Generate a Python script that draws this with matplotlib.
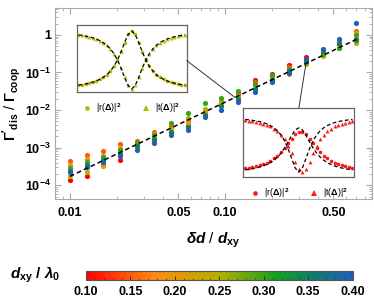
import numpy as np
import matplotlib
matplotlib.use('Agg')
import matplotlib.pyplot as plt
from matplotlib.colors import LinearSegmentedColormap, Normalize
from matplotlib.cm import ScalarMappable
from matplotlib.patches import ConnectionPatch
from matplotlib.ticker import FixedLocator, FixedFormatter, LogLocator, NullFormatter, MultipleLocator

plt.rcParams['font.family'] = ['Liberation Sans', 'DejaVu Sans']
plt.rcParams['font.weight'] = 'bold'
plt.rcParams['mathtext.fontset'] = 'custom'
plt.rcParams['mathtext.rm'] = 'Liberation Sans:bold'
plt.rcParams['mathtext.bf'] = 'Liberation Sans:bold'
plt.rcParams['mathtext.it'] = 'Liberation Sans:bold:italic'

### ~~~~~~~~~~~~~~~~~~~~~~~~~~~~~~~~~~~~~~~ ###
# main panel data: delta_d / d_xy and log10(Gamma'_dis / Gamma_coop)
delta_d = [0.0100, 0.0128, 0.0164, 0.0211, 0.0271, 0.0348, 0.0447, 0.0574, 0.0738,
           0.0948, 0.122, 0.156, 0.201, 0.258, 0.331, 0.426, 0.547, 0.703]

dxy_values = [0.10, 0.15, 0.20, 0.25, 0.30, 0.35, 0.40]

log_ratio_010 = [-3.87, -3.76, -3.46, -3.33, -2.98, -2.80, -2.57, -2.41, -2.04,
                 -1.80, -1.56, -1.20, -1.04, -0.79, -0.59, -0.49, -0.24, -0.10]
log_ratio_015 = [-3.35, -3.20, -3.09, -2.91, -2.82, -2.58, -2.42, -2.26, -1.99,
                 -1.82, -1.53, -1.26, -1.09, -0.85, -0.65, -0.52, -0.20, 0.10]
log_ratio_020 = [-3.47, -3.30, -3.49, -3.00, -3.00, -2.63, -2.49, -2.34, -2.06,
                 -1.87, -1.63, -1.34, -1.14, -1.01, -0.70, -0.56, -0.17, 0.04]
log_ratio_025 = [-3.76, -3.65, -3.22, -3.14, -2.93, -2.73, -2.53, -2.21, -1.96,
                 -1.77, -1.66, -1.44, -1.21, -1.03, -0.77, -0.54, -0.34, -0.22]
log_ratio_030 = [-3.55, -3.39, -3.25, -3.07, -2.87, -2.66, -2.34, -2.09, -1.82,
                 -1.69, -1.49, -1.31, -1.07, -0.92, -0.71, -0.51, -0.35, 0.00]
log_ratio_035 = [-3.61, -3.47, -3.32, -3.17, -2.96, -2.76, -2.59, -2.46, -2.12,
                 -1.90, -1.71, -1.44, -1.19, -0.97, -0.69, -0.44, -0.22, -0.15]
log_ratio_040 = [-3.65, -3.52, -3.38, -3.23, -3.05, -2.87, -2.67, -2.54, -2.19,
                 -2.00, -1.78, -1.51, -1.25, -1.02, -0.65, -0.38, -0.11, 0.31]

all_log_ratios = [log_ratio_010, log_ratio_015, log_ratio_020, log_ratio_025,
                  log_ratio_030, log_ratio_035, log_ratio_040]

# power-law fit (dashed)
fit_prefactor = 1.51
fit_exponent  = 1.97

### ~~~~~~~~~~~~~~~~~~~~~~~~~~~~~~~~~~~~~~~ ###
# inset data: detuning and |r|^2, |t|^2
detuning = [-1.5, -1.4, -1.3, -1.2, -1.1, -1.0, -0.9, -0.8, -0.7, -0.6, -0.5, -0.4,
            -0.3, -0.2, -0.1, 0.0, 0.1, 0.2, 0.3, 0.4, 0.5, 0.6, 0.7, 0.8, 0.9,
            1.0, 1.1, 1.2, 1.3, 1.4, 1.5]

r1 = [0.066, 0.075, 0.087, 0.100, 0.117, 0.138, 0.165, 0.200, 0.246, 0.308, 0.390,
      0.500, 0.640, 0.800, 0.941, 1.000, 0.941, 0.800, 0.640, 0.500, 0.390, 0.308,
      0.246, 0.200, 0.165, 0.138, 0.117, 0.100, 0.087, 0.075, 0.066]
t1 = [0.934, 0.925, 0.913, 0.900, 0.883, 0.862, 0.835, 0.800, 0.754, 0.692, 0.610,
      0.500, 0.360, 0.200, 0.059, 0.000, 0.059, 0.200, 0.360, 0.500, 0.610, 0.692,
      0.754, 0.800, 0.835, 0.862, 0.883, 0.900, 0.913, 0.925, 0.934]

r2_theory = [0.064, 0.072, 0.082, 0.095, 0.110, 0.130, 0.154, 0.185, 0.225, 0.277, 0.344,
             0.430, 0.533, 0.643, 0.734, 0.770, 0.734, 0.643, 0.533, 0.430, 0.344, 0.277,
             0.225, 0.185, 0.154, 0.130, 0.110, 0.095, 0.082, 0.072, 0.064]
t2_theory = [0.911, 0.905, 0.896, 0.887, 0.874, 0.858, 0.837, 0.809, 0.773, 0.722, 0.652,
             0.554, 0.421, 0.254, 0.095, 0.024, 0.095, 0.254, 0.421, 0.554, 0.652, 0.722,
             0.773, 0.809, 0.837, 0.858, 0.874, 0.887, 0.896, 0.905, 0.911]
r2_sim = [0.088, 0.098, 0.110, 0.123, 0.140, 0.161, 0.186, 0.217, 0.255, 0.302, 0.360,
          0.429, 0.508, 0.590, 0.662, 0.704, 0.704, 0.662, 0.590, 0.508, 0.429, 0.360,
          0.302, 0.255, 0.217, 0.186, 0.161, 0.140, 0.123, 0.110, 0.098]
t2_sim = [0.900, 0.892, 0.883, 0.872, 0.859, 0.842, 0.820, 0.794, 0.759, 0.714, 0.654,
          0.575, 0.473, 0.344, 0.202, 0.080, 0.030, 0.080, 0.202, 0.344, 0.473, 0.575,
          0.654, 0.714, 0.759, 0.794, 0.820, 0.842, 0.859, 0.872, 0.883]

### ~~~~~~~~~~~~~~~~~~~~~~~~~~~~~~~~~~~~~~~ ###
cmap = LinearSegmentedColormap.from_list('dxy', [
    (0.00, '#ff0000'),
    (0.25, '#ff8a10'),
    (0.50, '#b4b000'),
    (0.72, '#10a020'),
    (0.86, '#107a70'),
    (1.00, '#1f5fb5')])
norm = Normalize(vmin=0.10, vmax=0.40)

frame_grey = '#aaaaaa'

fig = plt.figure(figsize=(3.74, 3.04), dpi=100)
ax = fig.add_axes([0.147, 0.345, 0.848, 0.629])

for dxy, logs in zip(dxy_values, all_log_ratios):
    ax.scatter(delta_d, 10 ** np.array(logs), s=14, color=cmap(norm(dxy)),
               linewidths=0, zorder=2)

fit_x = np.array([delta_d[0], delta_d[-1]])
ax.plot(fit_x, fit_prefactor * fit_x ** fit_exponent, color='black', lw=1.1,
        ls=(0, (3, 2)), zorder=3)

ax.set_xscale('log')
ax.set_yscale('log')
ax.set_xlim(0.0080, 0.89)
ax.set_ylim(4.3e-5, 5.2)

ax.xaxis.set_major_locator(FixedLocator([0.01, 0.05, 0.1, 0.5]))
ax.xaxis.set_major_formatter(FixedFormatter(['0.01', '0.05', '0.10', '0.50']))
ax.xaxis.set_minor_locator(LogLocator(base=10, subs=np.arange(1, 10)))
ax.xaxis.set_minor_formatter(NullFormatter())

ax.yaxis.set_major_locator(FixedLocator([1e-4, 1e-3, 1e-2, 1e-1, 1]))
ax.yaxis.set_major_formatter(FixedFormatter([r'$10^{-4}$', r'$10^{-3}$', r'$10^{-2}$',
                                             r'$10^{-1}$', '1']))
ax.yaxis.set_minor_locator(LogLocator(base=10, subs=np.arange(2, 10)))
ax.yaxis.set_minor_formatter(NullFormatter())

ax.tick_params(which='both', direction='in', top=True, right=True, color=frame_grey,
               labelsize=9)
ax.tick_params(axis='x', pad=6)
ax.tick_params(axis='y', pad=3)
ax.tick_params(which='major', length=4, width=0.8)
ax.tick_params(which='minor', length=2, width=0.6)
for s in ax.spines.values():
    s.set_color(frame_grey)
    s.set_linewidth(0.8)

ax.set_xlabel(r'$\delta d$ / $d_{\mathrm{xy}}$', fontsize=11, labelpad=8)
ax.set_ylabel(r"$\Gamma'_{\mathrm{dis}}$ / $\Gamma_{\mathrm{coop}}$", fontsize=10.5,
              labelpad=1)

### ~~~~~~~~~~~~~~~~~~~~~~~~~~~~~~~~~~~~~~~ ###
# inset 1
ins1 = fig.add_axes([0.205, 0.698, 0.294, 0.219])
olive = '#b8b800'
ins1.plot(detuning, r1, ls='none', marker='o', ms=2.6, color=olive, mew=0,
          label=r'|r($\Delta$)|$^2$')
ins1.plot(detuning, t1, ls='none', marker='^', ms=2.8, color=olive, mew=0,
          label=r'|t($\Delta$)|$^2$')
ins1.plot(detuning, r1, color='black', lw=0.9, ls=(0, (3, 2)))
ins1.plot(detuning, t1, color='black', lw=0.9, ls=(0, (3, 2)))
ins1.set_xlim(-1.55, 1.55)
ins1.set_ylim(-0.05, 1.1)
ins1.set_xticks([])
ins1.set_yticks([])
for s in ins1.spines.values():
    s.set_color('#666666')
    s.set_linewidth(0.9)
leg1 = ins1.legend(loc='upper center', bbox_to_anchor=(0.5, -0.02), ncol=2,
                   frameon=False, handletextpad=0.5, columnspacing=2.2,
                   handlelength=1.0, markerscale=1.3, prop={'weight': 'normal', 'size': 6.5})

# inset 2
ins2 = fig.add_axes([0.651, 0.419, 0.296, 0.225])
red = '#ff1a1a'
ins2.plot(detuning, r2_sim, ls='none', marker='o', ms=2.6, color=red, mew=0,
          label=r'|r($\Delta$)|$^2$')
ins2.plot(detuning, t2_sim, ls='none', marker='^', ms=2.8, color=red, mew=0,
          label=r'|t($\Delta$)|$^2$')
ins2.plot(detuning, r2_theory, color='black', lw=0.9, ls=(0, (3, 2)))
ins2.plot(detuning, t2_theory, color='black', lw=0.9, ls=(0, (3, 2)))
ins2.set_xlim(-1.55, 1.55)
ins2.set_ylim(-0.05, 1.1)
ins2.set_xticks([])
ins2.set_yticks([])
for s in ins2.spines.values():
    s.set_color('#666666')
    s.set_linewidth(0.9)
leg2 = ins2.legend(loc='upper center', bbox_to_anchor=(0.5, -0.02), ncol=2,
                   frameon=False, handletextpad=0.5, columnspacing=2.2,
                   handlelength=1.0, markerscale=1.3, prop={'weight': 'normal', 'size': 6.5})

# connector lines
con1 = ConnectionPatch(xyA=(1.0, 0.47), coordsA=ins1.transAxes,
                       xyB=(0.116, fit_prefactor * 0.116 ** fit_exponent), coordsB=ax.transData,
                       color='#333333', lw=0.7)
fig.add_artist(con1)
con2 = ConnectionPatch(xyA=(0.5, 1.0), coordsA=ins2.transAxes,
                       xyB=(0.333, fit_prefactor * 0.333 ** fit_exponent), coordsB=ax.transData,
                       color='#333333', lw=0.7)
fig.add_artist(con2)

### ~~~~~~~~~~~~~~~~~~~~~~~~~~~~~~~~~~~~~~~ ###
# colorbar
cax = fig.add_axes([0.230, 0.079, 0.713, 0.031])
cb = fig.colorbar(ScalarMappable(norm=norm, cmap=cmap), cax=cax, orientation='horizontal')
cb.set_ticks([0.10, 0.15, 0.20, 0.25, 0.30, 0.35, 0.40])
cb.set_ticklabels(['0.10', '0.15', '0.20', '0.25', '0.30', '0.35', '0.40'])
cax.xaxis.set_minor_locator(MultipleLocator(0.01))
cax.tick_params(which='both', direction='in', labelsize=9, color='#333333', pad=4)
cax.tick_params(which='major', length=3, width=0.7)
cax.tick_params(which='minor', length=1.8, width=0.5)
cb.outline.set_edgecolor('#555555')
cb.outline.set_linewidth(0.8)
fig.text(0.027, 0.095, r'$d_{\mathrm{xy}}$ / $\lambda_0$', fontsize=11, va='center', ha='left')

fig.savefig('out.png', dpi=100)
